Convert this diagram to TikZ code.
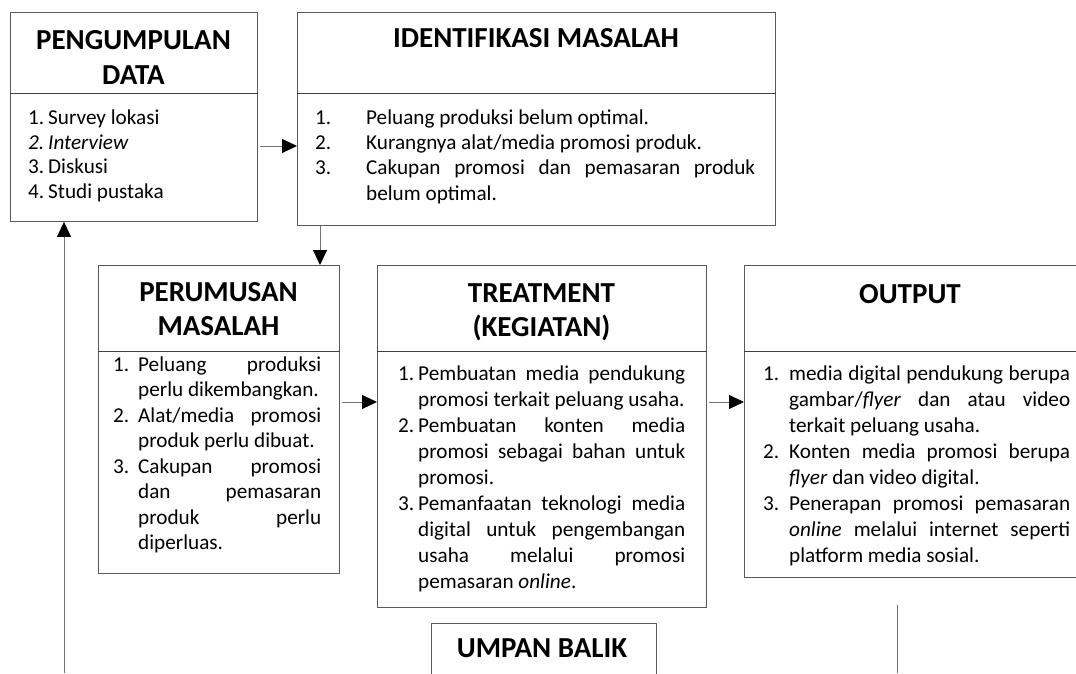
\documentclass[tikz,border=0pt]{standalone}
\usepackage{fontspec}
\setmainfont{Carlito}
\usetikzlibrary{arrows.meta}
\hyphenpenalty=10000
\exhyphenpenalty=10000
\tolerance=10000
\hbadness=10000
\newcommand{\itm}[3]{\noindent\hangindent=#1\hangafter=1\makebox[#1][l]{#2}#3\par}
\tikzset{
  box/.style={draw=black!65, line width=0.9pt, inner sep=0pt, anchor=north west, fill=white},
  divl/.style={draw=black!75, line width=0.9pt},
  head/.style={font=\fontsize{29}{34.5}\selectfont\bfseries, align=center, anchor=base, inner sep=0pt},
  body/.style={font=\fontsize{21.2}{25.5}\selectfont, align=justify, anchor=base west, inner sep=0pt},
  arr/.style={draw=black!55, line width=0.9pt, -{Triangle[length=15pt,width=14pt,color=black]}},
  plain/.style={draw=black!55, line width=0.9pt}
}
\begin{document}
\begin{tikzpicture}[x=1pt,y=-1pt]
\useasboundingbox (0,0) rectangle (1076,673);
\clip (0,0) rectangle (1076,673);
% boxes
\node[box, minimum width=247pt, minimum height=209pt] (pd) at (10,12) {};
\node[box, minimum width=478pt, minimum height=213pt] (im) at (297,12) {};
\node[box, minimum width=241pt, minimum height=308pt] (pm) at (98,265) {};
\node[box, minimum width=329pt, minimum height=342pt] (tr) at (377,265) {};
\node[box, minimum width=333pt, minimum height=312pt] (out) at (744,265) {};
\node[box, minimum width=225pt, minimum height=80pt] (ub) at (431,623) {};
% dividers
\draw[divl] (pd.west |- 0,93) -- (pd.east |- 0,93);
\draw[divl] (im.west |- 0,93) -- (im.east |- 0,93);
\draw[divl] (pm.west |- 0,351) -- (pm.east |- 0,351);
\draw[divl] (tr.west |- 0,351) -- (tr.east |- 0,351);
\draw[divl] (out.west |- 0,351) -- (out.east |- 0,351);
% headers
\node[head, text width=247pt] (pdh) at (133.5,49.5) {PENGUMPULAN\\DATA};
\node[head] (imh) at (536,47) {IDENTIFIKASI MASALAH};
\node[head, text width=241pt] (pmh) at (218.5,301) {PERUMUSAN\\MASALAH};
\node[head, text width=329pt] (trh) at (541.5,302) {TREATMENT\\(KEGIATAN)};
\node[head] (outh) at (910,303) {OUTPUT};
\node[head] (ubh) at (542,657) {UMPAN BALIK};
% bodies
\node[body, align=flush left, text width=220pt, font=\fontsize{21.2}{24.7}\selectfont] (pdb) at (28,124.5) {%
\itm{20pt}{1.}{Survey lokasi}%
\itm{20pt}{\textit{2.}}{\textit{Interview}}%
\itm{20pt}{3.}{Diskusi}%
\itm{20pt}{4.}{Studi pustaka}};
\node[body, text width=440pt, font=\fontsize{21.2}{25.2}\selectfont] (imb) at (315,124.5) {%
\itm{51pt}{1.}{Peluang produksi belum optimal.}%
\itm{51pt}{2.}{Kurangnya alat/media promosi produk.}%
\itm{51pt}{3.}{Cakupan promosi dan pemasaran produk\linebreak belum optimal.}};
\node[body, text width=208pt] (pmb) at (113,371) {%
\itm{25pt}{1.}{Peluang produksi\linebreak perlu dikembangkan.}%
\itm{25pt}{2.}{Alat/media promosi\linebreak produk perlu dibuat.}%
\itm{25pt}{3.}{Cakupan promosi\linebreak dan pemasaran\linebreak produk perlu\linebreak diperluas.}};
\node[body, text width=287pt, font=\fontsize{21.2}{26}\selectfont] (trb) at (398,380) {%
\itm{20pt}{1.}{Pembuatan media pendukung\linebreak promosi terkait peluang usaha.}%
\itm{20pt}{2.}{Pembuatan konten media\linebreak promosi sebagai bahan untuk\linebreak promosi.}%
\itm{20pt}{3.}{Pemanfaatan teknologi media\linebreak digital untuk pengembangan\linebreak usaha melalui promosi\linebreak pemasaran \textit{online}.}};
\node[body, text width=307pt, font=\fontsize{21.2}{26}\selectfont] (outb) at (763,380) {%
\itm{26pt}{1.}{media digital pendukung berupa\linebreak gambar/\textit{flyer} dan atau video\linebreak terkait peluang usaha.}%
\itm{26pt}{2.}{Konten media promosi berupa\linebreak \textit{flyer} dan video digital.}%
\itm{26pt}{3.}{Penerapan promosi pemasaran\linebreak \textit{online} melalui internet seperti\linebreak platform media sosial.}};
% connectors
\coordinate (fb) at (64,673);
\coordinate (rt) at (897,605);
\coordinate (rb) at (897,673);
\draw[arr] ([xshift=2pt]pd.east |- 0,146) -- (im.west |- 0,146);
\draw[arr] (im.south -| 320,0) -- (pm.north -| 320,0);
\draw[arr] ([xshift=2pt]pm.east |- 0,402) -- (tr.west |- 0,402);
\draw[arr] ([xshift=2pt]tr.east |- 0,402) -- (out.west |- 0,402);
\draw[arr] (fb) -- (pd.south -| fb);
\draw[plain] (rt) -- (rb);
\end{tikzpicture}
\end{document}
